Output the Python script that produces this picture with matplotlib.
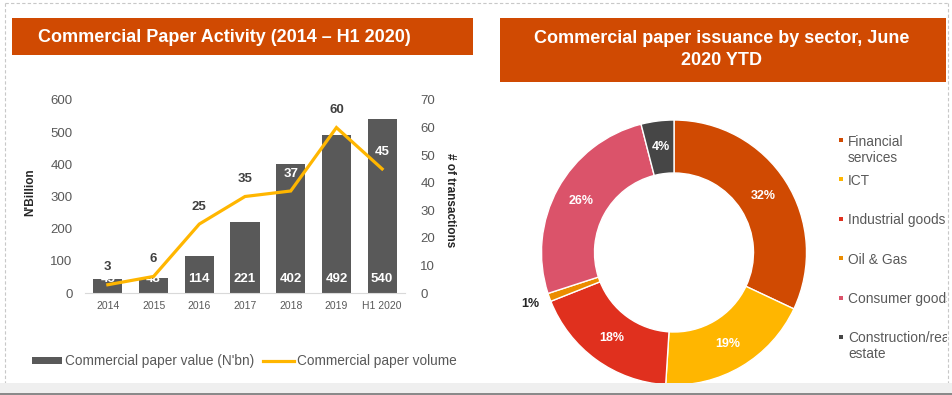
import matplotlib
matplotlib.use("Agg")
import matplotlib.pyplot as plt
from matplotlib.patches import Rectangle
from matplotlib.lines import Line2D
import numpy as np

plt.rcParams['font.family'] = ['Liberation Sans', 'DejaVu Sans']

#------------------------------- data ----------------------------------------#
years = ['2014', '2015', '2016', '2017', '2018', '2019', 'H1 2020']
cp_value = [45, 48, 114, 221, 402, 492, 540]      # N'bn
cp_volume = [3, 6, 25, 35, 37, 60, 45]            # number of transactions

sectors = ['Financial\nservices', 'ICT', 'Industrial goods', 'Oil & Gas',
           'Consumer goods', 'Construction/real\nestate']
sector_share = [32, 19, 18, 1, 26, 4]
sector_colors = ['#D04A02', '#FFB600', '#E0301E', '#EB8C00', '#DB536A', '#464646']

ORANGE = '#D04A02'
BAR_GREY = '#595959'
LINE_YEL = '#FFB600'
TXT_GREY = '#595959'

W, H = 953, 395


def px_box(x0, y0, x1, y1):
    # pixel box (origin top left) -> figure fraction [l, b, w, h]
    return [x0 / W, 1 - y1 / H, (x1 - x0) / W, (y1 - y0) / H]


fig = plt.figure(figsize=(W / 100, H / 100), dpi=100)
fig.patch.set_facecolor('white')

#----------------------- background / frames / titles ------------------------#
bg = fig.add_axes([0, 0, 1, 1])
bg.set_xlim(0, W)
bg.set_ylim(H, 0)
bg.axis('off')

dash = dict(color='#c8c8c8', lw=0.8, ls=(0, (3, 2)))
bg.plot([5, 948], [3, 3], **dash)
bg.plot([5, 5], [3, 383], **dash)
bg.plot([948, 948], [3, 383], **dash)

bg.add_patch(Rectangle((12, 18), 461, 37, color=ORANGE, lw=0))
bg.text(38, 37, 'Commercial Paper Activity (2014 \u2013 H1 2020)', color='white',
        fontsize=13, fontweight='bold', ha='left', va='center')

bg.add_patch(Rectangle((500, 18), 446, 64, color=ORANGE, lw=0))
bg.text(722, 49.5, 'Commercial paper issuance by sector, June\n2020 YTD', color='white',
        fontsize=13, fontweight='bold', ha='center', va='center', linespacing=1.37)

#----------------------------- bar + line chart -------------------------------#
x = np.arange(len(years))
ax = fig.add_axes(px_box(85, 100, 405, 293))
ax.bar(x, cp_value, width=0.64, color=BAR_GREY, zorder=2)
ax.set_xlim(-0.5, len(years) - 0.5)
ax.set_ylim(0, 600)
ax.set_yticks(range(0, 601, 100))
ax.set_xticks(x)
ax.set_xticklabels(years)
for s in ['top', 'left', 'right']:
    ax.spines[s].set_visible(False)
ax.spines['bottom'].set_color('#d9d9d9')
ax.tick_params(axis='y', length=0, pad=9, labelsize=9.5, labelcolor=TXT_GREY)
ax.tick_params(axis='x', length=0, pad=6, labelsize=7.5, labelcolor=TXT_GREY)
ax.set_ylabel("N'Billion", fontsize=8.5, fontweight='bold', color='#262626', va='center')
ax.yaxis.set_label_coords(-0.172, 0.52)

for i, v in enumerate(cp_value):
    ax.text(i, 43, str(v), ha='center', va='center', color='white',
            fontsize=9.5, fontweight='bold', zorder=3)

ax2 = ax.twinx()
ax2.plot(x, cp_volume, color=LINE_YEL, lw=2.3, solid_joinstyle='miter')
ax2.set_ylim(0, 70)
ax2.set_yticks(range(0, 71, 10))
for s in ax2.spines.values():
    s.set_visible(False)
ax2.tick_params(axis='y', length=0, pad=11, labelsize=9.5, labelcolor=TXT_GREY)
ax2.set_ylabel('# of transactions', rotation=270, fontsize=8.5, fontweight='bold',
               color='#262626', va='center')
ax2.yaxis.set_label_coords(1.14, 0.48)

for i, v in enumerate(cp_volume):
    inside = cp_value[i] * 70 / 600 > v + 3
    ax2.annotate(str(v), (i, v), xytext=(0, 12.5), textcoords='offset points',
                 ha='center', va='center', fontsize=9.5, fontweight='bold',
                 color='white' if inside else '#404040')

# legend for the left chart
bg.add_patch(Rectangle((32, 357), 30, 7, color=BAR_GREY, lw=0))
bg.text(65, 361, "Commercial paper value (N'bn)", fontsize=9.8, color=TXT_GREY,
        ha='left', va='center')
bg.add_line(Line2D([263, 294], [361, 361], color=LINE_YEL, lw=2.3))
bg.text(297, 361, 'Commercial paper volume', fontsize=9.8, color=TXT_GREY,
        ha='left', va='center')

#------------------------------- donut -----------------------------------------#
dax = fig.add_axes(px_box(541.5, 120, 806.5, 385))
wedges, _, autotexts = dax.pie(sector_share, colors=sector_colors, startangle=90,
                               counterclock=False, radius=1, autopct='%d%%',
                               pctdistance=0.8,
                               wedgeprops=dict(width=0.4, edgecolor='white', linewidth=1))
for t in autotexts:
    t.set_color('white')
    t.set_fontsize(9)
    t.set_fontweight('bold')
# small slice: label outside
w = wedges[3]
ang = np.deg2rad((w.theta1 + w.theta2) / 2)
autotexts[3].set_position((1.15 * np.cos(ang), 1.15 * np.sin(ang)))
autotexts[3].set_color('#262626')
dax.set_xlim(-1, 1)
dax.set_ylim(-1, 1)

# legend for the donut (clipped at the panel border like the original)
rax = fig.add_axes(px_box(483, 0, 947, 395))
rax.set_xlim(483, 947)
rax.set_ylim(395, 0)
rax.axis('off')
for i, (lab, col) in enumerate(zip(sectors, sector_colors)):
    yy = 140 + i * 39.4
    rax.scatter([841], [yy], marker='s', s=9, color=col, lw=0)
    for k, line in enumerate(lab.split('\n')):
        t = rax.text(848, yy + k * 16, line, fontsize=9.9, color=TXT_GREY,
                     ha='left', va='center_baseline')
        t.set_clip_box(rax.bbox)
        t.set_clip_on(True)

# grey strip at the bottom
fig.add_artist(Rectangle((0, 0), 1, 12 / H, transform=fig.transFigure,
                         color='#efefef', lw=0, zorder=10))
fig.add_artist(Rectangle((0, 0), 1, 2 / H, transform=fig.transFigure,
                         color='#8a8a8a', lw=0, zorder=11))

fig.savefig('out.png', dpi=100)
